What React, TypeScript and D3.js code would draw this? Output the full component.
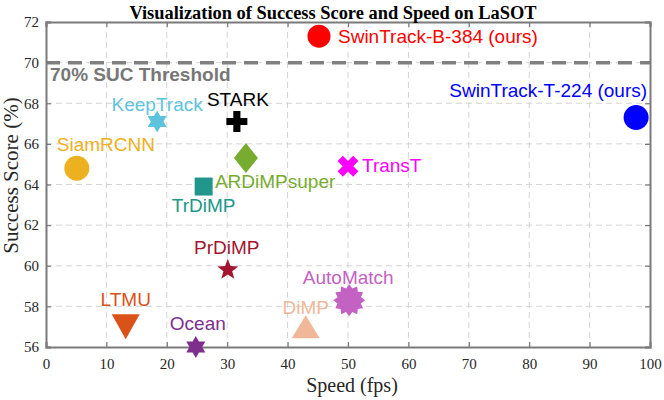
import React, { useRef, useEffect } from 'react';
import * as d3 from 'd3';

// LaSOT success score vs speed
const trackers = [
  'SwinTrack-B-384 (ours)', 'SwinTrack-T-224 (ours)', 'TransT', 'AutoMatch', 'DiMP',
  'STARK', 'KeepTrack', 'SiamRCNN', 'ARDiMPsuper', 'TrDiMP', 'PrDiMP', 'LTMU', 'Ocean',
];
const speeds = [45.2, 97.7, 50, 50.2, 43, 31.6, 18.4, 5.1, 33.1, 26.1, 30.1, 13.2, 24.8];
const scores = [71.3, 67.3, 64.9, 58.3, 57.0, 67.1, 67.1, 64.8, 65.3, 63.9, 59.8, 57.0, 56.0];
const xTicks = [0, 10, 20, 30, 40, 50, 60, 70, 80, 90, 100];
const yTicks = [56, 58, 60, 62, 64, 66, 68, 70, 72];
const threshold = 70;

// styles
const colors = [
  '#ff0000', '#0000ff', '#ff00ff', '#c462c4', '#f0b898',
  '#000000', '#5ec4de', '#edb120', '#77ac30', '#21968a', '#a2142f', '#d95319', '#7e2f8e',
];
const shapes = [
  'circle', 'circle', 'x', 'burst', 'triUp',
  'plus', 'hexagram', 'circle', 'diamond', 'square', 'pentagram', 'triDown', 'hexagram',
];
const markerDims = [
  [23, 23], [25, 25], [22, 22], [32, 32], [28, 23],
  [21, 21], [22, 22], [25, 25], [24, 30], [18, 18], [22, 22], [28, 25], [22, 22],
];
const labelPos = [
  { dx: 19, dy: 7, anchor: 'start' },
  { dx: 11, dy: -20, anchor: 'end' },
  { dx: 14, dy: 6, anchor: 'start' },
  { dx: -1, dy: -16, anchor: 'middle' },
  { dx: 0, dy: -13, anchor: 'middle' },
  { dx: 1, dy: -16, anchor: 'middle' },
  { dx: 0, dy: -11, anchor: 'middle' },
  { dx: -20, dy: -17, anchor: 'start' },
  { dx: -31, dy: 30, anchor: 'start' },
  { dx: 0, dy: 25, anchor: 'middle' },
  { dx: -1, dy: -16, anchor: 'middle' },
  { dx: 0, dy: -21, anchor: 'middle' },
  { dx: 2, dy: -17, anchor: 'middle' },
];

const poly = (pts: number[][]) => 'M' + pts.map(p => p.join(',')).join('L') + 'Z';

const star = (n: number, rOut: number, rIn: number) =>
  d3.lineRadial<number>()
    .angle(i => (i * Math.PI) / n)
    .radius(i => (i % 2 === 0 ? rOut : rIn))
    .curve(d3.curveLinearClosed)(d3.range(n * 2)) as string;

function markerPath(shape: string, w: number, h: number): string {
  const a = w / 2, b = h / 2;
  switch (shape) {
    case 'circle':
      return d3.symbol(d3.symbolCircle, Math.PI * a * a)() as string;
    case 'square':
      return poly([[-a, -b], [a, -b], [a, b], [-a, b]]);
    case 'diamond':
      return poly([[0, -b], [a, 0], [0, b], [-a, 0]]);
    case 'triUp':
      return poly([[0, -b], [a, b], [-a, b]]);
    case 'triDown':
      return poly([[-a, -b], [a, -b], [0, b]]);
    case 'plus':
    case 'x': {
      const t = w * 0.17;
      return poly([[-t, -a], [t, -a], [t, -t], [a, -t], [a, t], [t, t], [t, a], [-t, a], [-t, t], [-a, t], [-a, -t], [-t, -t]]);
    }
    case 'hexagram':
      return star(6, a, a / Math.sqrt(3));
    case 'pentagram':
      return star(5, a, a * 0.42);
    case 'burst':
      return star(12, a, a * 0.76);
    default:
      return '';
  }
}

const W = 664, H = 400;
const margin = { top: 22, right: 14, bottom: 53, left: 46 };

const App = () => {
  const svgRef = useRef<SVGSVGElement>(null);

  useEffect(() => {
    const svg = d3.select(svgRef.current);
    svg.selectAll('*').remove();

    const iw = W - margin.left - margin.right;
    const ih = H - margin.top - margin.bottom;

    const x = d3.scaleLinear().domain([0, 100]).range([0, iw]);
    const y = d3.scaleLinear().domain([56, 72]).range([ih, 0]);

    svg.append('rect').attr('width', W).attr('height', H).attr('fill', '#fff');

    const g = svg.append('g').attr('transform', `translate(${margin.left},${margin.top})`);

    // grid
    g.append('g')
      .selectAll('line')
      .data(xTicks.slice(1, -1))
      .join('line')
      .attr('x1', d => x(d)).attr('x2', d => x(d))
      .attr('y1', 0).attr('y2', ih)
      .attr('stroke', '#d4d4d4').attr('stroke-width', 1).attr('stroke-dasharray', '6,4');
    g.append('g')
      .selectAll('line')
      .data(yTicks.slice(1, -1))
      .join('line')
      .attr('y1', d => y(d)).attr('y2', d => y(d))
      .attr('x1', 0).attr('x2', iw)
      .attr('stroke', '#d4d4d4').attr('stroke-width', 1).attr('stroke-dasharray', '6,4');

    // threshold
    g.append('line')
      .attr('x1', 0).attr('x2', iw)
      .attr('y1', y(threshold)).attr('y2', y(threshold))
      .attr('stroke', '#808080').attr('stroke-width', 3.5).attr('stroke-dasharray', '14,8');
    g.append('text')
      .attr('x', 4).attr('y', y(threshold) + 18)
      .attr('font-family', '"Liberation Sans", Arial, sans-serif')
      .attr('font-weight', 'bold').attr('font-size', 19)
      .attr('fill', '#777')
      .text('70% SUC Threshold');

    // axes (box with inward ticks)
    const axisColor = '#7a7a7a';
    const bottom = g.append('g').attr('transform', `translate(0,${ih})`)
      .call(d3.axisBottom(x).tickValues(xTicks).tickSize(-5).tickPadding(11));
    const left = g.append('g')
      .call(d3.axisLeft(y).tickValues(yTicks).tickSize(-5).tickPadding(7));
    const top = g.append('g')
      .call(d3.axisTop(x).tickValues(xTicks).tickSize(-5).tickFormat(() => ''));
    const right = g.append('g').attr('transform', `translate(${iw},0)`)
      .call(d3.axisRight(y).tickValues(yTicks).tickSize(-5).tickFormat(() => ''));
    [bottom, left, top, right].forEach(ax => {
      ax.select('.domain').attr('stroke', axisColor).attr('stroke-width', 2);
      ax.selectAll('.tick line').attr('stroke', axisColor).attr('stroke-width', 1.2);
      ax.selectAll('.tick text')
        .attr('fill', '#262626')
        .attr('font-family', '"Liberation Serif", "Times New Roman", serif')
        .attr('font-size', 15);
    });

    // markers
    const pts = g.append('g')
      .selectAll('g')
      .data(trackers)
      .join('g')
      .attr('transform', (d, i) => `translate(${x(speeds[i])},${y(scores[i])})`);

    pts.append('path')
      .attr('d', (d, i) => markerPath(shapes[i], markerDims[i][0], markerDims[i][1]))
      .attr('transform', (d, i) => (shapes[i] === 'x' ? 'rotate(45)' : null))
      .attr('fill', (d, i) => colors[i]);

    pts.append('text')
      .attr('x', (d, i) => labelPos[i].dx)
      .attr('y', (d, i) => labelPos[i].dy)
      .attr('text-anchor', (d, i) => labelPos[i].anchor)
      .attr('font-family', '"Liberation Sans", Arial, sans-serif')
      .attr('font-size', 19)
      .attr('fill', (d, i) => colors[i])
      .text(d => d);

    // title & labels
    svg.append('text')
      .attr('x', margin.left + iw / 2 - 15).attr('y', 19)
      .attr('text-anchor', 'middle')
      .attr('font-family', '"Liberation Serif", "Times New Roman", serif')
      .attr('font-weight', 'bold').attr('font-size', 18.4)
      .text('Visualization of Success Score and Speed on LaSOT');

    svg.append('text')
      .attr('x', margin.left + iw / 2 + 4).attr('y', 392)
      .attr('text-anchor', 'middle')
      .attr('font-family', '"Liberation Serif", "Times New Roman", serif')
      .attr('font-size', 20)
      .attr('fill', '#262626')
      .text('Speed (fps)');

    svg.append('text')
      .attr('transform', `translate(18,${margin.top + ih / 2 - 9}) rotate(-90)`)
      .attr('text-anchor', 'middle')
      .attr('font-family', '"Liberation Serif", "Times New Roman", serif')
      .attr('font-size', 21)
      .attr('fill', '#262626')
      .text('Success Score (%)');
  }, []);

  return (
    <div style={{ position: 'absolute', left: 0, top: 0 }}>
      <svg ref={svgRef} width={W} height={H} style={{ display: 'block' }} />
    </div>
  );
};

export default App;
